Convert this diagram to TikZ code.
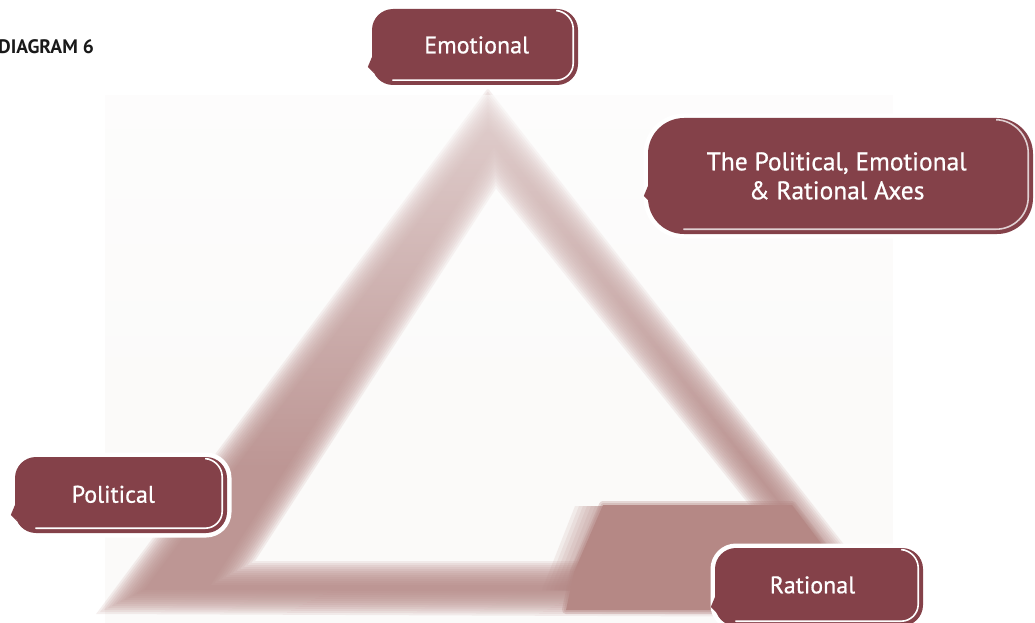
\documentclass[tikz,border=0pt]{standalone}
\usepackage{fontspec}
\setmainfont{PT Sans}
\newfontfamily\lblfont[FakeBold=0.7]{PT Sans}
\usetikzlibrary{calc,fadings}
\definecolor{boxcol}{RGB}{132,65,73}
\definecolor{bandcol}{RGB}{181,136,133}
\definecolor{bgcol}{RGB}{251,250,249}
\tikzfading[name=topwhite, top color=transparent!45, bottom color=transparent!100]
\newcommand\shine[3]{%
  \draw[#3, line width=1.6, line cap=round, rounded corners=#2-4]
    ($(#1.north east)+(-#2+2,2)$) -- ($(#1.north east)+(-5,3)$) --
    ($(#1.south east)+(-5,-5)$) -- ($(#1.south west)+(#2,-5)$);
  \fill[boxcol] ($(#1.west)+(1,8)$) -- ($(#1.west)+(-4,20)$) -- ($(#1.west)+(2,26)$) -- cycle;
}
\begin{document}
\begin{tikzpicture}[x=1pt,y=-1pt,
  tagbox/.style={fill=boxcol, inner sep=0pt, preaction={draw=white, line width=9pt}},
  lbl/.style={text=white, inner sep=0pt, font=\lblfont\fontsize{24}{29}\selectfont}]
\useasboundingbox (0,0) rectangle (1035,623);
\fill[white] (0,0) rectangle (1035,623);
\fill[bgcol] (105,95) rectangle (893,623);
% blurred triangle ring
\coordinate (OA) at (488,108); \coordinate (OB) at (120,602); \coordinate (OC) at (876,605);
\coordinate (OI) at (491.5,415.5);
\coordinate (IA) at (495,168); \coordinate (IB) at (233,573); \coordinate (IC) at (819,573);
\coordinate (II) at (507.9,423.5);
\foreach \ee in {0,2,...,24}{
  \pgfmathsetmacro\so{(174.5+\ee)/186.5}
  \pgfmathsetmacro\si{(161.5-\ee)/149.5}
  \fill[bandcol, fill opacity=0.135, even odd rule]
    ($(OI)!\so!(OA)$) -- ($(OI)!\so!(OB)$) -- ($(OI)!\so!(OC)$) -- cycle
    ($(II)!\si!(IA)$) -- ($(II)!\si!(IB)$) -- ($(II)!\si!(IC)$) -- cycle;
}
% solid block at bottom right, with a soft left edge
\foreach \dx in {4,8,...,28}{
  \fill[bandcol, fill opacity=0.13] (603-\dx,506) -- (603,506) -- (570,590) -- (570-\dx,590) -- cycle;
}
\foreach \w in {8,4}{
  \draw[bandcol, draw opacity=0.3, line width=\w, line join=round]
    (603,505) -- (792,505) -- (864,600) -- (864,610) -- (566,610) -- (574,572) -- cycle;
}
\fill[bandcol] (603,505) -- (792,505) -- (864,600) -- (864,610) -- (566,610) -- (574,572) -- cycle;
\fill[white, path fading=topwhite] (100,95) rectangle (900,470);
% title
\node[anchor=base west, inner sep=0pt, font=\fontsize{19.5}{21}\selectfont\bfseries, text=black!90] (title) at (-2,54) {DIAGRAM 6};
% boxes
\node[tagbox, rounded corners=21, minimum width=206pt, minimum height=76pt] (emobox) at (475,47) {};
\shine{emobox}{21}{white}
\node[lbl, anchor=base] (emo) at (476.7,53.3) {Emotional};
\node[tagbox, rounded corners=21, minimum width=212pt, minimum height=76pt] (polbox) at (121,495) {};
\shine{polbox}{21}{white}
\node[lbl, anchor=base] (pol) at (113.3,502.7) {Political};
\node[tagbox, rounded corners=21, minimum width=208pt, minimum height=78pt] (ratbox) at (819,587) {};
\shine{ratbox}{21}{white}
\node[lbl, anchor=base] (rat) at (812.5,593.3) {Rational};
\node[tagbox, rounded corners=36, minimum width=385pt, minimum height=116pt] (axbox) at (840.5,176) {};
\shine{axbox}{36}{white!75!boxcol}
\node[lbl, anchor=base, align=center, font=\lblfont\fontsize{25.5}{29}\selectfont] (ax) at (836.7,199.3) {The Political, Emotional\\\& Rational Axes};
\end{tikzpicture}
\end{document}
